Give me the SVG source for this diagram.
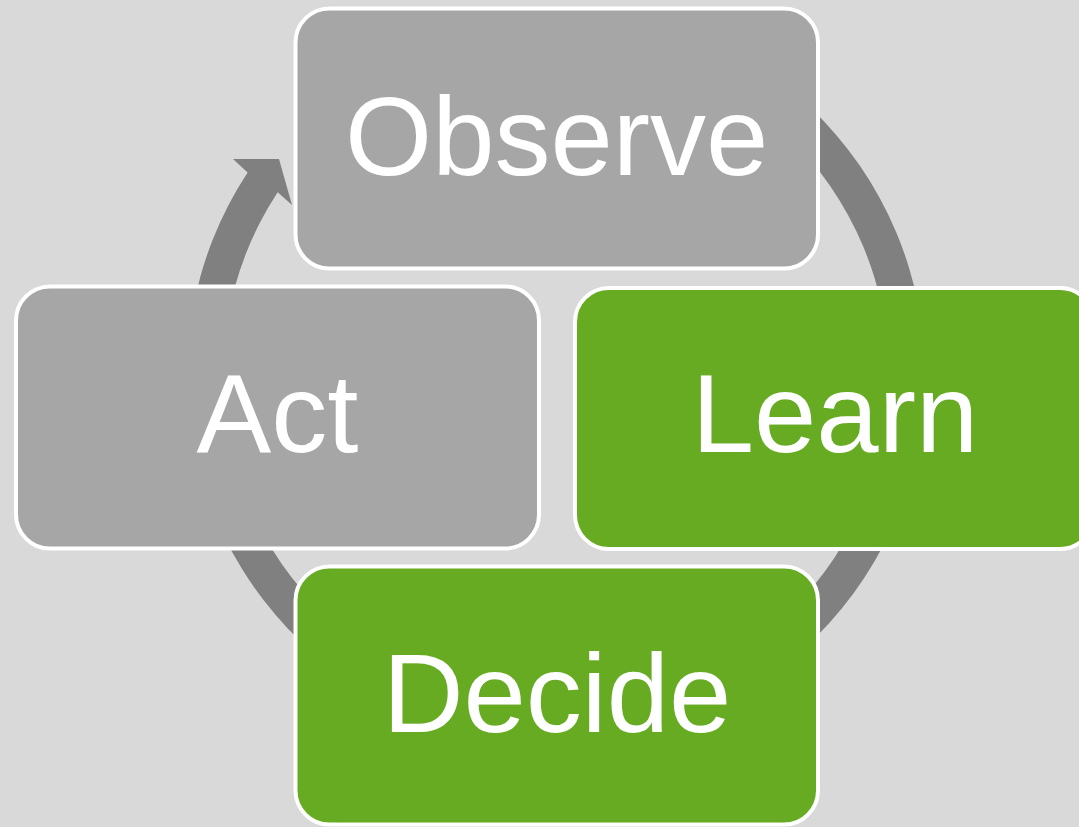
<svg xmlns="http://www.w3.org/2000/svg" width="1079" height="827" viewBox="0 0 1079 827">
  <style>
    .box { stroke: #ffffff; stroke-width: 4; }
    .gray { fill: #a6a6a6; }
    .green { fill: #66ab21; }
    .label { fill: #ffffff; font-family: "Liberation Sans", Arial, sans-serif; font-size: 112px; text-anchor: middle; }
    .ring { fill: #808080; }
  </style>
  <rect x="0" y="0" width="1079" height="827" fill="#d9d9d9"/>

  <!-- circular arrow behind the four steps, running clockwise -->
  <g id="connectors">
    <path class="ring" d="M 682.2 28.3 A 369 369 0 1 1 247.6 172.4 L 233 159 L 279 159 L 292 205 L 277.7 192.2 A 333 333 0 1 0 669.9 62.1 Z"/>
  </g>

  <g id="observe">
    <rect class="box gray" x="295.5" y="8.5" width="522.5" height="260" rx="34" ry="34"/>
    <text class="label" x="556.7" y="175">Observe</text>
  </g>

  <g id="act">
    <rect class="box gray" x="16" y="286.5" width="523" height="262" rx="34" ry="34"/>
    <text class="label" x="277.5" y="452">Act</text>
  </g>

  <g id="learn">
    <rect class="box green" x="575" y="288" width="519" height="261" rx="34" ry="34"/>
    <text class="label" x="835" y="452">Learn</text>
  </g>

  <g id="decide">
    <rect class="box green" x="295.5" y="566.5" width="522.5" height="258" rx="34" ry="34"/>
    <text class="label" x="557" y="732">Decide</text>
  </g>
</svg>
